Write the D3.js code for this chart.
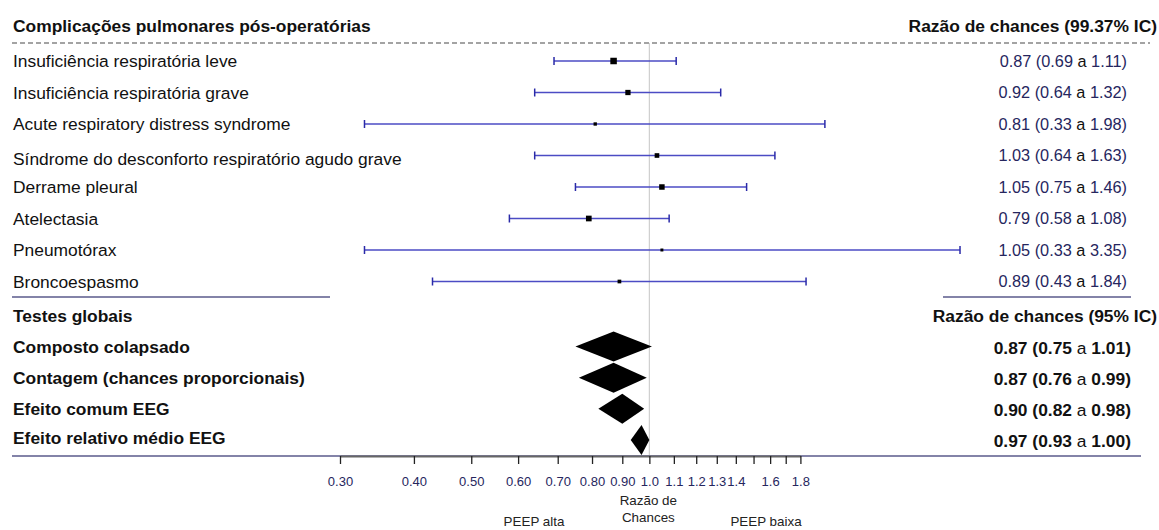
<!DOCTYPE html>
<html>
<head>
<meta charset="utf-8">
<script src="https://cdn.jsdelivr.net/npm/d3@7"></script>
<style>
  html, body { margin: 0; padding: 0; background: #fff; }
  svg { display: block; font-family: "Liberation Sans", Arial, sans-serif; }
</style>
</head>
<body>
<svg id="chart" width="1159" height="530"></svg>
<script>
// ---- Data ----
const outcomes = [
  "Insuficiência respiratória leve",
  "Insuficiência respiratória grave",
  "Acute respiratory distress syndrome",
  "Síndrome do desconforto respiratório agudo grave",
  "Derrame pleural",
  "Atelectasia",
  "Pneumotórax",
  "Broncoespasmo"
];
const oddsRatio = [0.87, 0.92, 0.81, 1.03, 1.05, 0.79, 1.05, 0.89];
const lowerCI  = [0.69, 0.64, 0.33, 0.64, 0.75, 0.58, 0.33, 0.43];
const upperCI  = [1.11, 1.32, 1.98, 1.63, 1.46, 1.08, 3.35, 1.84];

const globalTests = [
  "Composto colapsado",
  "Contagem (chances proporcionais)",
  "Efeito comum EEG",
  "Efeito relativo médio EEG"
];
const globalOR    = [0.87, 0.87, 0.90, 0.97];
const globalLower = [0.75, 0.76, 0.82, 0.93];
const globalUpper = [1.01, 0.99, 0.98, 1.00];

const tickValues = [0.3, 0.4, 0.5, 0.6, 0.7, 0.8, 0.9, 1.0, 1.1, 1.2, 1.3, 1.4, 1.5, 1.6, 1.7, 1.8];
const tickLabels = ["0.30", "0.40", "0.50", "0.60", "0.70", "0.80", "0.90", "1.0", "1.1", "1.2", "1.3", "1.4", "", "1.6", "", "1.8"];

const headerLeft = "Complicações pulmonares pós-operatórias";
const headerRight = "Razão de chances (99.37% IC)";
const globalHeaderLeft = "Testes globais";
const globalHeaderRight = "Razão de chances (95% IC)";
const axisTitle = ["Razão de", "Chances"];
const leftArrowLabel = "PEEP alta";
const rightArrowLabel = "PEEP baixa";

// ---- Layout ----
const svg = d3.select("#chart");
const navy = "#26265e";
const ruleColor = "#8383a8";
const ciColor = "#4b4bc4";
const labelSize = 17.4;

const x = d3.scaleLog().domain([0.3, 1.8]).range([340, 800.4]);
const yRow = d3.scaleLinear().domain([0, outcomes.length - 1]).range([61, 281.5]);
const yGlob = d3.scaleLinear().domain([0, globalTests.length - 1]).range([346.5, 440]);
const precision = lowerCI.map((l, i) => 1 / (Math.log(upperCI[i]) - Math.log(l)));
const boxSize = d3.scaleSqrt().domain([0, d3.max(precision)]).range([0, 6.5]);

const fmt2 = d => d.toFixed(2);

// Reference line at OR = 1
svg.append("line")
  .attr("x1", x(1)).attr("x2", x(1))
  .attr("y1", 43).attr("y2", 456)
  .attr("stroke", "#cfcfcf").attr("stroke-width", 1.2);

// Header
svg.append("text").attr("x", 13).attr("y", 26).attr("dy", "0.35em")
  .attr("font-size", labelSize).attr("font-weight", "bold").attr("fill", "#111").text(headerLeft);
svg.append("text").attr("x", 1157).attr("y", 26).attr("dy", "0.35em")
  .attr("text-anchor", "end")
  .attr("font-size", labelSize).attr("font-weight", "bold").attr("fill", "#111").text(headerRight);

// Dashed line under header
svg.append("line")
  .attr("x1", 12).attr("x2", 1150).attr("y1", 43).attr("y2", 43)
  .attr("stroke", "#a3a3a3").attr("stroke-width", 2).attr("stroke-dasharray", "5,3");

// Outcome rows
const rows = svg.append("g").selectAll("g").data(outcomes).join("g");
rows.append("text")
  .attr("x", 13).attr("y", (d, i) => yRow(i) + (i === 3 ? 3 : 0)).attr("dy", "0.35em")
  .attr("font-size", labelSize).attr("fill", "#111").text(d => d);

// CI lines
rows.append("line")
  .attr("x1", (d, i) => x(lowerCI[i])).attr("x2", (d, i) => x(upperCI[i]))
  .attr("y1", (d, i) => yRow(i)).attr("y2", (d, i) => yRow(i))
  .attr("stroke", ciColor).attr("stroke-width", 1.6);
rows.append("line")
  .attr("x1", (d, i) => x(lowerCI[i])).attr("x2", (d, i) => x(lowerCI[i]))
  .attr("y1", (d, i) => yRow(i) - 4).attr("y2", (d, i) => yRow(i) + 4)
  .attr("stroke", "#2a2aa8").attr("stroke-width", 1.5);
rows.append("line")
  .attr("x1", (d, i) => x(upperCI[i])).attr("x2", (d, i) => x(upperCI[i]))
  .attr("y1", (d, i) => yRow(i) - 4).attr("y2", (d, i) => yRow(i) + 4)
  .attr("stroke", "#2a2aa8").attr("stroke-width", 1.5);
// Boxes
rows.append("rect")
  .attr("x", (d, i) => x(oddsRatio[i]) - boxSize(precision[i]) / 2)
  .attr("y", (d, i) => yRow(i) - boxSize(precision[i]) / 2)
  .attr("width", (d, i) => boxSize(precision[i]))
  .attr("height", (d, i) => boxSize(precision[i]))
  .attr("fill", "#000");

// Values
const valTexts = rows.append("text")
  .attr("x", 1127).attr("y", (d, i) => yRow(i)).attr("dy", "0.35em")
  .attr("text-anchor", "end").attr("font-size", 16.3).attr("fill", navy);
valTexts.append("tspan").text((d, i) => `${fmt2(oddsRatio[i])} (${fmt2(lowerCI[i])} `);
valTexts.append("tspan").attr("fill", "#111").text("a");
valTexts.append("tspan").text((d, i) => ` ${fmt2(upperCI[i])})`);

// Middle rules
svg.append("line").attr("x1", 12).attr("x2", 330).attr("y1", 297).attr("y2", 297)
  .attr("stroke", ruleColor).attr("stroke-width", 2);
svg.append("line").attr("x1", 943).attr("x2", 1131).attr("y1", 297).attr("y2", 297)
  .attr("stroke", ruleColor).attr("stroke-width", 2);

// Global header
svg.append("text").attr("x", 13).attr("y", 316).attr("dy", "0.35em")
  .attr("font-size", labelSize).attr("font-weight", "bold").attr("fill", "#111").text(globalHeaderLeft);
svg.append("text").attr("x", 1157).attr("y", 316).attr("dy", "0.35em")
  .attr("text-anchor", "end")
  .attr("font-size", labelSize).attr("font-weight", "bold").attr("fill", "#111").text(globalHeaderRight);

// Global rows
const grows = svg.append("g").selectAll("g").data(globalTests).join("g");
grows.append("text")
  .attr("x", 13).attr("y", (d, i) => yGlob(i) - (i === 3 ? 2 : 0)).attr("dy", "0.35em")
  .attr("font-size", labelSize).attr("font-weight", "bold").attr("fill", "#111").text(d => d);
grows.append("path")
  .attr("d", (d, i) => {
    const cy = yGlob(i), h = 15;
    return `M${x(globalLower[i])},${cy} L${x(globalOR[i])},${cy - h} L${x(globalUpper[i])},${cy} L${x(globalOR[i])},${cy + h} Z`;
  })
  .attr("fill", "#000");
const gvals = grows.append("text")
  .attr("x", 1131).attr("y", (d, i) => yGlob(i) + 1).attr("dy", "0.35em")
  .attr("text-anchor", "end").attr("font-size", labelSize).attr("fill", "#111");
gvals.append("tspan").attr("font-weight", "bold").text((d, i) => `${fmt2(globalOR[i])} (${fmt2(globalLower[i])} `);
gvals.append("tspan").text("a");
gvals.append("tspan").attr("font-weight", "bold").text((d, i) => ` ${fmt2(globalUpper[i])})`);

// Bottom rule
svg.append("line").attr("x1", 12).attr("x2", 1141).attr("y1", 456).attr("y2", 456)
  .attr("stroke", ruleColor).attr("stroke-width", 2);

// Axis
const axis = d3.axisBottom(x)
  .tickValues(tickValues)
  .tickFormat((d, i) => tickLabels[i])
  .tickSize(8).tickSizeOuter(0);
const ag = svg.append("g").attr("transform", "translate(0,456)").call(axis);
ag.select(".domain").attr("stroke", "#666").attr("stroke-width", 2);
ag.selectAll(".tick line").attr("stroke", "#222").attr("stroke-width", 1.3);
ag.selectAll(".tick text").attr("font-size", 13).attr("fill", navy)
  .attr("font-family", "'Liberation Sans', Arial, sans-serif").attr("dy", "1.45em");

// Axis title & direction labels
svg.append("text").attr("x", x(1) - 1).attr("y", 500).attr("dy", "0.35em")
  .attr("text-anchor", "middle").attr("font-size", 13.4).attr("fill", "#222").text(axisTitle[0]);
svg.append("text").attr("x", x(1) - 1).attr("y", 517).attr("dy", "0.35em")
  .attr("text-anchor", "middle").attr("font-size", 13.4).attr("fill", "#222").text(axisTitle[1]);
svg.append("text").attr("x", 534).attr("y", 521).attr("dy", "0.35em")
  .attr("text-anchor", "middle").attr("font-size", 13.4).attr("fill", "#222").text(leftArrowLabel);
svg.append("text").attr("x", 766).attr("y", 521).attr("dy", "0.35em")
  .attr("text-anchor", "middle").attr("font-size", 13.4).attr("fill", "#222").text(rightArrowLabel);
</script>
</body>
</html>
